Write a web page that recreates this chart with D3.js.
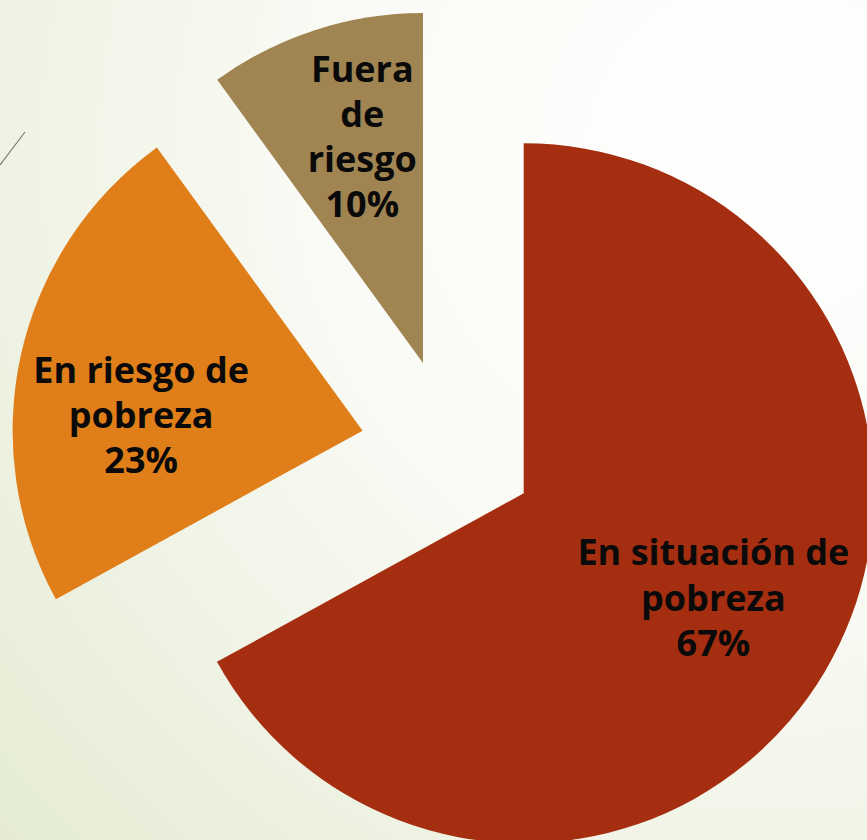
<!DOCTYPE html>
<html>
<head>
<meta charset="utf-8">
<script src="https://cdn.jsdelivr.net/npm/d3@7"></script>
<style>
  html, body { margin: 0; padding: 0; background: #fff; }
  svg { display: block; }
</style>
</head>
<body>
<div id="chart"></div>
<script>
// ---- data ----
const categories = ["En situación de pobreza", "En riesgo de pobreza", "Fuera de riesgo"];
const values = [67, 23, 10];
const labelLines = [
  ["En situación de", "pobreza", "67%"],
  ["En riesgo de", "pobreza", "23%"],
  ["Fuera", "de", "riesgo", "10%"]
];
const colors = ["#A52E10", "#E07F1A", "#A08452"];

// ---- layout ----
const W = 867, H = 840;
const cx = 451.4, cy = 450.5;
const R = 350;
const explode = [84, 91, 92];
const labelPolar = [ // [angle deg, distance] from each slice vertex
  [118.8, 216.5],
  [274.0, 222.0],
  [345.0, 234.5]
];
const fontSize = 36, lineH = 45.3, capHalf = 13;

const svg = d3.select("#chart").append("svg")
  .attr("width", W).attr("height", H);

const defs = svg.append("defs");
const grad = defs.append("radialGradient")
  .attr("id", "bg").attr("gradientUnits", "userSpaceOnUse")
  .attr("cx", 760).attr("cy", 150).attr("r", 1050);
[[0, "#FFFFFF"], [0.41, "#FAFBF6"], [0.74, "#EEF2E2"], [1, "#E4EBD1"]]
  .forEach(([o, c]) => grad.append("stop").attr("offset", o).attr("stop-color", c));

svg.append("rect").attr("width", W).attr("height", H).attr("fill", "url(#bg)");

// decorative slide line
svg.append("line")
  .attr("x1", 0).attr("y1", 165).attr("x2", 25).attr("y2", 132)
  .attr("stroke", "#7d7766").attr("stroke-width", 1.2);

const pie = d3.pie().sort(null).value(d => d)(values);
const arc = d3.arc().innerRadius(0).outerRadius(R);

const g = svg.append("g");
pie.forEach((d, i) => {
  const mid = (d.startAngle + d.endAngle) / 2;
  const ox = cx + explode[i] * Math.sin(mid);
  const oy = cy - explode[i] * Math.cos(mid);
  const sg = g.append("g").attr("transform", `translate(${ox},${oy})`);
  sg.append("path").attr("d", arc(d)).attr("fill", colors[i]);

  const [adeg, dist] = labelPolar[i];
  const a = adeg * Math.PI / 180;
  const lx = dist * Math.sin(a), ly = -dist * Math.cos(a);
  const lines = labelLines[i];
  const t = sg.append("text")
    .attr("text-anchor", "middle")
    .attr("font-family", "'Open Sans', sans-serif")
    .attr("font-weight", 700)
    .attr("font-size", fontSize)
    .attr("fill", "#0a0a0a");
  lines.forEach((ln, k) => {
    t.append("tspan")
      .attr("x", lx)
      .attr("y", ly + (k - (lines.length - 1) / 2) * lineH + capHalf)
      .text(ln);
  });
});
</script>
</body>
</html>
